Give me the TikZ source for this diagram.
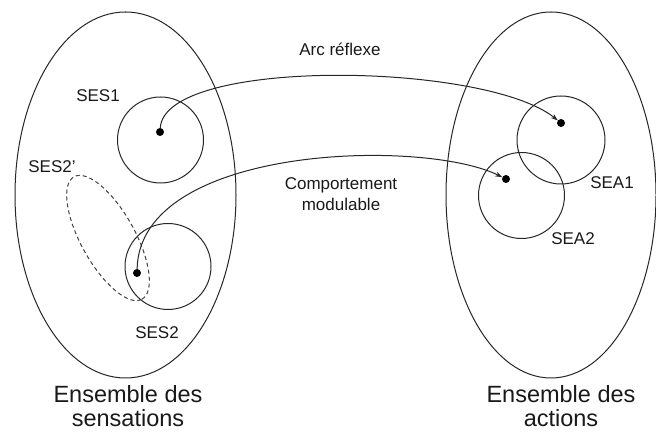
\documentclass[tikz,border=0pt]{standalone}
\usepackage{fontspec}
\setmainfont{Liberation Sans}
\usetikzlibrary{shapes.geometric,arrows.meta}

\begin{document}
\begin{tikzpicture}[
		x=1pt, y=1pt,
		% Outline of the two large sets
		setoval/.style={ellipse, draw=black!85, line width=1pt, inner sep=0pt},
		% Subsets drawn as circles
		subset/.style={circle, draw=black!85, line width=1pt, inner sep=0pt, minimum size=86pt},
		% Points inside the subsets
		datapoint/.style={circle, fill=black, inner sep=0pt, minimum size=8pt},
		% Curved mappings between points
		mapping/.style={draw=black!85, line width=1pt, -{Stealth[length=7pt,width=5pt]}},
		% Typography
		labelstyle/.style={font=\fontsize{17}{21}\selectfont, text=black!90, align=center},
		titlestyle/.style={font=\fontsize{23.5}{24}\selectfont, text=black!90, align=center}
		]
		
		\useasboundingbox (0,0) rectangle (656,435);
		
		% =========================================================================
		% SENSATIONS (Left)
		% =========================================================================
		\node[setoval, minimum width=221pt, minimum height=366pt] (sens) at (125.5,240) {};
		
		\node[subset] (ses1) at (160.5,295) {};
		\node[subset] (ses2) at (168,168.5) {};
		\node[ellipse, draw=black!75, line width=1pt, dash pattern=on 4pt off 3pt, inner sep=0pt,
			minimum width=140pt, minimum height=54pt, rotate=-61] (ses2p) at (108,197) {};
		
		\node[datapoint] (d1) at (160,303) {};
		\node[datapoint] (d2) at (137,162) {};
		
		\node[labelstyle] (l1) at (98,339) {SES1};
		\node[labelstyle] (l2) at (157,102) {SES2};
		\node[labelstyle] (l2p) at (52,268) {SES2'};
		
		\node[titlestyle] (tsens) at (128,29) {Ensemble des\\sensations};
		
		% =========================================================================
		% ACTIONS (Right)
		% =========================================================================
		\node[setoval, minimum width=210pt, minimum height=366pt] (act) at (551,240) {};
		
		\node[subset, minimum size=88pt] (sea1) at (561,295) {};
		\node[subset] (sea2) at (521.5,239.5) {};
		
		\node[datapoint] (a1) at (561,312) {};
		\node[datapoint] (a2) at (506,256) {};
		
		\node[labelstyle] (m1) at (612,252) {SEA1};
		\node[labelstyle] (m2) at (573,196) {SEA2};
		
		\node[titlestyle] (tact) at (561,29) {Ensemble des\\actions};
		
		% =========================================================================
		% MAPPINGS
		% =========================================================================
		\draw[mapping] (d1) .. controls +(5,75) and +(-76,61) .. (a1);
		\draw[mapping] (d2) .. controls +(3,128) and +(-83,41) .. (a2);
		
		\node[labelstyle] (arc) at (340,386) {Arc réflexe};
		\node[labelstyle] (comp) at (341,241) {Comportement\\modulable};
		
	\end{tikzpicture}
\end{document}
